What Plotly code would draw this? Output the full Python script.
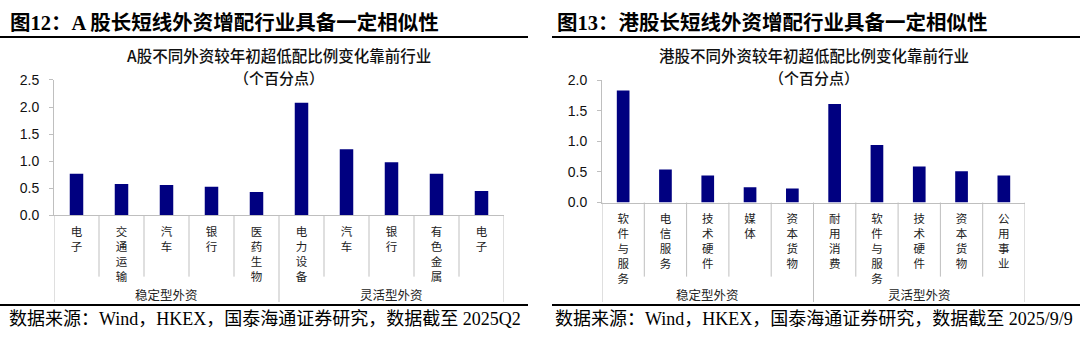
import plotly.graph_objects as go

W, H = 1080, 345

# ---------------- data ----------------
a_title = "图12：A 股长短线外资增配行业具备一定相似性"
a_sub1 = "A股不同外资较年初超低配比例变化靠前行业"
a_cats = ["电子", "交通运输", "汽车", "银行", "医药生物", "电力设备", "汽车", "银行", "有色金属", "电子"]
a_vals = [0.77, 0.58, 0.56, 0.53, 0.43, 2.08, 1.22, 0.98, 0.77, 0.45]
a_ticks = [0.0, 0.5, 1.0, 1.5, 2.0, 2.5]
a_source = "数据来源：Wind，HKEX，国泰海通证券研究，数据截至 2025Q2"

h_title = "图13：港股长短线外资增配行业具备一定相似性"
h_sub1 = "港股不同外资较年初超低配比例变化靠前行业"
h_cats = ["软件与服务", "电信服务", "技术硬件", "媒体", "资本货物", "耐用消费", "软件与服务", "技术硬件", "资本货物", "公用事业"]
h_vals = [1.83, 0.54, 0.44, 0.25, 0.23, 1.61, 0.94, 0.59, 0.51, 0.44]
h_ticks = [0.0, 0.5, 1.0, 1.5, 2.0]
h_source = "数据来源：Wind，HKEX，国泰海通证券研究，数据截至 2025/9/9"

sub2 = "（个百分点）"
groups = ["稳定型外资", "灵活型外资"]
group_size = 5

# ---------------- style ----------------
BAR = "#000080"
GRAY = "#BFBFBF"
CJK = "Noto Sans CJK SC"
SERIF = "Liberation Serif, Noto Sans CJK SC"
SANS = "Liberation Sans, Arial, sans-serif"


def px_x(x):
    return x / W


def px_y(y):
    return (H - y) / H


panels = [
    dict(cats=a_cats, vals=a_vals, ticks=a_ticks, title=a_title, sub=a_sub1, source=a_source,
         x0=54, x1=504, ybot=217.5, ytop=75.5, title_x=8, line=(0, 528), src_x=7),
    dict(cats=h_cats, vals=h_vals, ticks=h_ticks, title=h_title, sub=h_sub1, source=h_source,
         x0=602, x1=1025, ybot=204, ytop=75.7, title_x=555, line=(552, 1080), src_x=553),
]

fig = go.Figure()
shapes = []
annotations = []

for i, p in enumerate(panels):
    n = i + 1
    xa = "x" if n == 1 else f"x{n}"
    ya = "y" if n == 1 else f"y{n}"
    xkey = "xaxis" if n == 1 else f"xaxis{n}"
    ykey = "yaxis" if n == 1 else f"yaxis{n}"
    idx = list(range(len(p["cats"])))

    fig.add_trace(go.Bar(x=idx, y=p["vals"], marker=dict(color=BAR, line=dict(width=0)),
                         width=0.3, xaxis=xa, yaxis=ya, showlegend=False, hoverinfo="skip"))

    fig.layout[xkey] = dict(
        domain=[px_x(p["x0"]), px_x(p["x1"])], anchor=ya,
        range=[-0.5, len(idx) - 0.5], tickmode="array", tickvals=idx,
        ticktext=["<br>".join(list(c)) for c in p["cats"]],
        showline=True, linecolor=GRAY, linewidth=1, ticks="", showgrid=False, zeroline=False,
        tickfont=dict(family=CJK, size=11.5, color="#222"), tickangle=0, fixedrange=True,
        ticklabelstandoff=6,
    )
    fig.layout[ykey] = dict(
        domain=[px_y(p["ybot"]), px_y(p["ytop"])], anchor=xa,
        range=[0, max(p["ticks"])], tickmode="array", tickvals=p["ticks"],
        ticktext=[f"{t:.1f}" for t in p["ticks"]],
        showline=True, linecolor=GRAY, linewidth=1, ticks="outside", ticklen=4, tickcolor=GRAY,
        showgrid=False, zeroline=False, tickfont=dict(family=SANS, size=14, color="#111"),
        fixedrange=True, ticklabelstandoff=7,
    )

    # category separators below the axis
    y_axis_paper = px_y(p["ybot"])
    for k in range(len(idx) + 1):
        xb = k - 0.5
        outer = (k % group_size == 0)
        shapes.append(dict(type="line", xref=xa, yref="paper", x0=xb, x1=xb,
                           y0=y_axis_paper, y1=px_y(308.3 if outer else 281.7),
                           line=dict(color=GRAY, width=1)))
    # group labels
    for g, name in enumerate(groups):
        annotations.append(dict(text=name, xref=xa, yref="paper",
                                x=g * group_size + (group_size - 1) / 2, y=px_y(300),
                                showarrow=False, xanchor="center", yanchor="middle",
                                font=dict(family=CJK, size=12.5, color="#222")))

    # chart sub titles (two lines)
    cx = px_x((p["x0"] + p["x1"]) / 2)
    annotations.append(dict(text=p["sub"], xref="paper", yref="paper",
                            x=cx, y=px_y(49.5), showarrow=False, xanchor="center",
                            yanchor="middle",
                            font=dict(family=CJK, size=15.5, color="#111", weight=500)))
    annotations.append(dict(text=sub2, xref="paper", yref="paper",
                            x=cx, y=px_y(73), showarrow=False, xanchor="center",
                            yanchor="middle",
                            font=dict(family=CJK, size=15, color="#111", weight=500)))

    # figure title + rule
    annotations.append(dict(text=f"<b>{p['title']}</b>", xref="paper", yref="paper",
                            x=px_x(p["title_x"]), y=px_y(15), showarrow=False,
                            xanchor="left", yanchor="middle",
                            font=dict(family=SERIF, size=20.5, color="#000")))
    shapes.append(dict(type="line", xref="paper", yref="paper",
                       x0=px_x(p["line"][0]), x1=px_x(p["line"][1]), y0=px_y(30.5), y1=px_y(30.5),
                       line=dict(color="#000", width=2)))
    # source rule + text
    shapes.append(dict(type="line", xref="paper", yref="paper",
                       x0=px_x(p["line"][0]), x1=px_x(p["line"][1]), y0=px_y(311.5), y1=px_y(311.5),
                       line=dict(color="#000", width=2)))
    annotations.append(dict(text=p["source"], xref="paper", yref="paper",
                            x=px_x(p["src_x"]), y=px_y(326), showarrow=False,
                            xanchor="left", yanchor="middle",
                            font=dict(family=SERIF, size=18, color="#000")))

fig.update_layout(
    width=W, height=H, margin=dict(l=0, r=0, t=0, b=0),
    paper_bgcolor="white", plot_bgcolor="white",
    shapes=shapes, annotations=annotations, bargap=0.7,
)

fig.write_html("out.html", config={"displayModeBar": False})
